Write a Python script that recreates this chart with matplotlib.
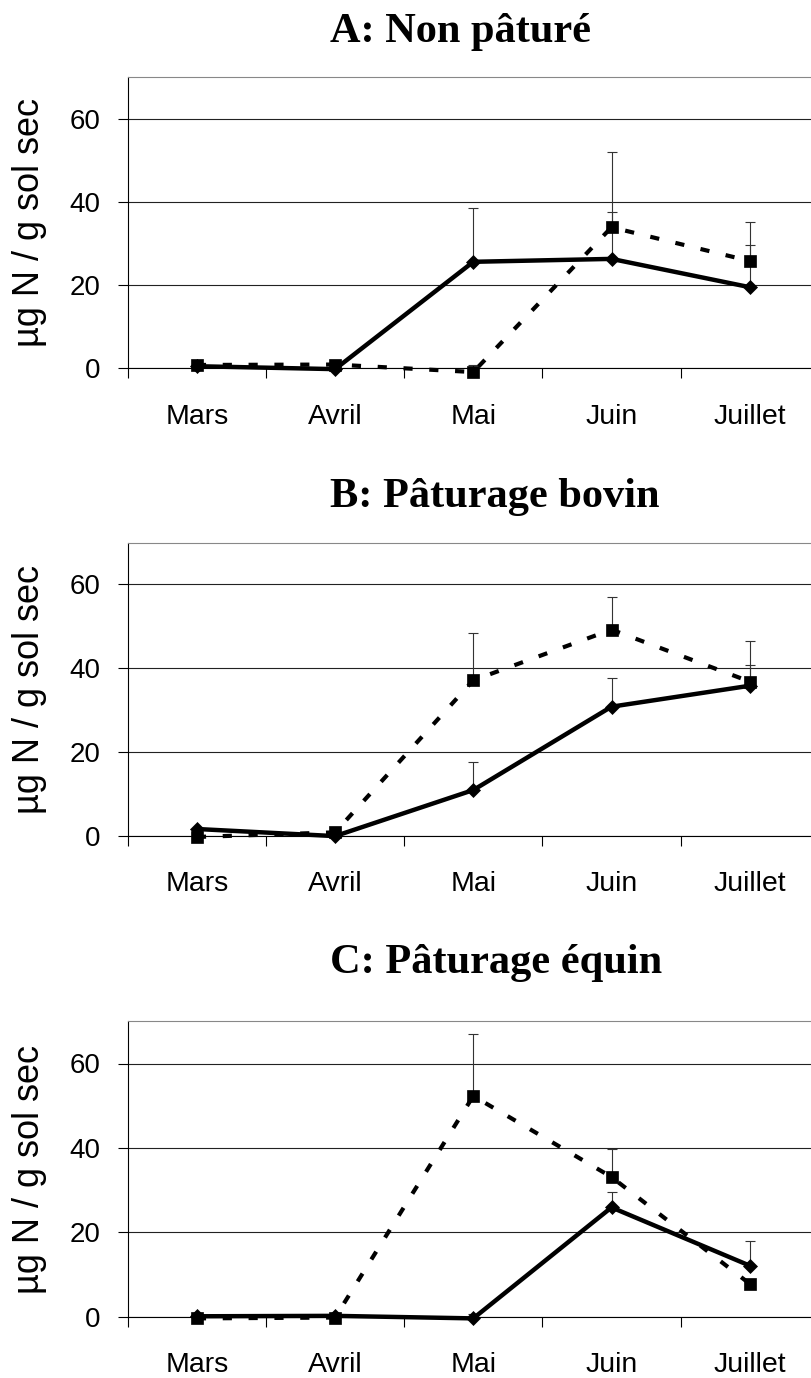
import matplotlib
matplotlib.use("Agg")
import matplotlib.pyplot as plt
from matplotlib.ticker import FixedLocator

months = ["Mars", "Avril", "Mai", "Juin", "Juillet"]
titles = ["A: Non pâturé", "B: Pâturage bovin", "C: Pâturage équin"]
ylabel = "µg N / g sol sec"
yticks = [0, 20, 40, 60]

# solid line with diamonds
solid_A = [0.5, -0.2, 25.6, 26.3, 19.5]
solid_A_err = [0, 0, 13.0, 11.2, 10.2]
dashed_A = [0.8, 0.9, -0.9, 33.9, 25.8]
dashed_A_err = [0, 0, 1.6, 18.0, 9.3]

solid_B = [1.6, -0.1, 10.9, 30.8, 35.8]
solid_B_err = [0, 0, 6.7, 6.8, 4.9]
dashed_B = [-0.3, 0.8, 37.1, 49.2, 36.8]
dashed_B_err = [0, 0, 11.3, 7.7, 9.6]

solid_C = [0.1, 0.2, -0.4, 25.9, 12.1]
solid_C_err = [0, 0, 1.0, 3.7, 5.8]
dashed_C = [-0.4, -0.2, 52.3, 33.1, 7.8]
dashed_C_err = [0, 0, 14.8, 6.7, 0]

solids = [solid_A, solid_B, solid_C]
solid_errs = [solid_A_err, solid_B_err, solid_C_err]
dasheds = [dashed_A, dashed_B, dashed_C]
dashed_errs = [dashed_A_err, dashed_B_err, dashed_C_err]

W, H = 811, 1378
fig = plt.figure(figsize=(W / 100, H / 100), dpi=100)

# (top pixel, zero pixel, title baseline pixel)
panels = [(77.1, 368.3, 41.7), (542.5, 835.7, 507), (1021.3, 1316.7, 972.7)]
left_px, width_px = 127.8, 691.0

for i, (ytop, yzero, ty) in enumerate(panels):
    ax = fig.add_axes([left_px / W, 1 - yzero / H, width_px / W, (yzero - ytop) / H])
    x = list(range(len(months)))
    ax.set_xlim(-0.5, len(months) - 0.5)
    ax.set_ylim(0, 70)

    ax.yaxis.grid(True, color="#222222", lw=0.8)
    ax.set_axisbelow(True)

    # error bars (upper only)
    for vals, err in ((dasheds[i], dashed_errs[i]), (solids[i], solid_errs[i])):
        ax.errorbar(x, vals, yerr=[[0] * len(err), err], fmt="none",
                    ecolor="#333333", elinewidth=0.8, capsize=3.5,
                    capthick=0.8, clip_on=False, zorder=3)

    ax.plot(x, dasheds[i], color="black", lw=3.0, linestyle=(0, (2.2, 4.0)),
            marker="s", ms=9, mec="black", mfc="black", mew=0.5,
            clip_on=False, zorder=4)
    ax.plot(x, solids[i], color="black", lw=3.2, linestyle="-",
            marker="D", ms=7.3, mec="black", mfc="black", mew=0.5,
            clip_on=False, zorder=5)

    for s in ("top", "right"):
        ax.spines[s].set_color("#888888")
        ax.spines[s].set_linewidth(0.8)
    for s in ("left", "bottom"):
        ax.spines[s].set_color("black")
        ax.spines[s].set_linewidth(0.8)

    ax.set_yticks(yticks)
    ax.tick_params(axis="y", direction="out", length=7.5, width=0.8,
                   pad=12, labelsize=20)
    ax.set_xticks(x)
    ax.set_xticklabels(months)
    ax.xaxis.set_minor_locator(FixedLocator([k - 0.5 for k in range(len(months) + 1)]))
    ax.tick_params(axis="x", which="major", length=0, pad=25.5, labelsize=20.5)
    ax.tick_params(axis="x", which="minor", direction="out", length=7.5, width=0.8)
    for lab in ax.get_xticklabels() + ax.get_yticklabels():
        lab.set_fontfamily("Liberation Sans")

    ax.set_ylabel(ylabel, fontsize=26, fontfamily="Liberation Sans")
    ax.yaxis.set_label_coords(-(left_px - 47) / width_px, 0.5)

    fig.text(330 / W, 1 - ty / H, titles[i], ha="left", va="baseline",
             fontsize=30.5, fontweight="bold", fontfamily="Liberation Serif")

fig.savefig("out.png", dpi=100)
